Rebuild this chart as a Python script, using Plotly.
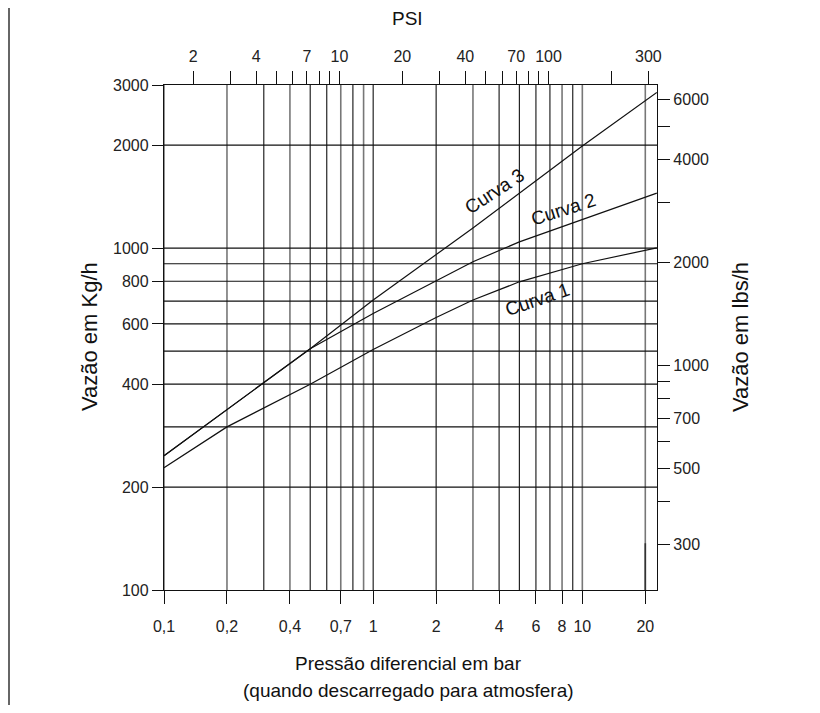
import math
import plotly.graph_objects as go

# ---------------- data ----------------
bar_ticks = [0.1, 0.2, 0.4, 0.7, 1, 2, 4, 6, 8, 10, 20]
bar_tick_labels = ["0,1", "0,2", "0,4", "0,7", "1", "2", "4", "6", "8", "10", "20"]
bar_grid = [0.1, 0.2, 0.3, 0.4, 0.5, 0.6, 0.7, 0.8, 0.9, 1, 2, 3, 4, 5, 6, 7, 8, 9, 10, 20]
bar_grid_grey = [0.1, 0.2, 0.4, 0.7, 0.9, 3, 8, 10, 20]

kg_ticks = [100, 200, 400, 600, 800, 1000, 2000, 3000]
kg_tick_labels = ["100", "200", "400", "600", "800", "1000", "2000", "3000"]
kg_grid = [200, 300, 400, 500, 600, 700, 800, 900, 1000, 2000]

psi_ticks = [2, 3, 4, 5, 6, 7, 8, 9, 10, 20, 30, 40, 50, 60, 70, 80, 90, 100, 200, 300]
psi_tick_labels = ["2", "", "4", "", "", "7", "", "", "10", "20", "", "40", "", "", "70", "", "", "100", "", "300"]

lbs_ticks = [300, 400, 500, 600, 700, 800, 900, 1000, 2000, 3000, 4000, 5000, 6000]
lbs_tick_labels = ["300", "", "500", "", "700", "", "", "1000", "2000", "", "4000", "", "6000"]

curve1_bar = [0.1, 0.2, 0.5, 1, 2, 3, 5, 10, 22.7]
curve1_kg = [228, 300, 400, 505, 627, 705, 797, 900, 1002]

curve2_bar = [0.1, 0.5, 1, 2, 3, 5, 10, 22.7]
curve2_kg = [247, 508, 644, 800, 912, 1043, 1212, 1448]

curve3_bar = [0.1, 0.5, 1, 3, 10, 22.7]
curve3_kg = [247, 508, 705, 1145, 1990, 2853]

curve_names = ["Curva 1", "Curva 2", "Curva 3"]

BAR_TO_PSI = 14.5038
KG_TO_LBS = 2.20462
X_MIN, X_MAX = 0.1, 22.75
Y_MIN, Y_MAX = 100, 3000

# ---------------- layout geometry (page has an 8px body margin) ----------------
OFF = 8
FIG_W, FIG_H = 812, 697
L, T = 164 - OFF, 85 - OFF
PW, PH = 493, 505
R = FIG_W - L - PW
B = FIG_H - T - PH

def px_to_paper_x(px):
    return (px - OFF - L) / PW

def px_to_paper_y(py):
    return (T + PH - (py - OFF)) / PH

tick_font = dict(family="Liberation Sans Narrow, Liberation Sans, Arial", size=16, color="#222")
title_font = dict(family="Liberation Sans, Arial", size=19, color="#111")
vtitle_font = dict(family="Liberation Sans, Arial", size=22, color="#111")

fig = go.Figure()
for xs, ys, name in [(curve1_bar, curve1_kg, curve_names[0]),
                     (curve2_bar, curve2_kg, curve_names[1]),
                     (curve3_bar, curve3_kg, curve_names[2])]:
    fig.add_trace(go.Scatter(x=xs, y=ys, mode="lines", name=name,
                             line=dict(color="#111", width=1.2),
                             hoverinfo="x+y+name", showlegend=False))

# dummy trace to realise secondary axes
fig.add_trace(go.Scatter(x=[psi_ticks[0]], y=[lbs_ticks[0]], xaxis="x2", yaxis="y2",
                         mode="markers", marker=dict(opacity=0), hoverinfo="skip",
                         showlegend=False))

shapes = []
for v in bar_grid:
    grey = v in bar_grid_grey
    shapes.append(dict(type="line", xref="x", yref="paper", x0=v, x1=v, y0=0, y1=1,
                       line=dict(color="#777" if grey else "#111", width=1.6 if grey else 1.1),
                       layer="below"))
for v in kg_grid:
    shapes.append(dict(type="line", xref="paper", yref="y", x0=0, x1=1, y0=v, y1=v,
                       line=dict(color="#111", width=1.2), layer="below"))
# short darker segment near bottom of the 20 bar line
shapes.append(dict(type="line", xref="x", yref="y", x0=bar_ticks[-1], x1=bar_ticks[-1],
                   y0=Y_MIN, y1=137, line=dict(color="#333", width=1.6)))
# page border (left / right)
for bx in (9, 818):
    shapes.append(dict(type="line", xref="paper", yref="paper", x0=px_to_paper_x(bx), x1=px_to_paper_x(bx),
                       y0=px_to_paper_y(OFF), y1=px_to_paper_y(OFF + FIG_H),
                       line=dict(color="#666", width=2)))

axis_common = dict(type="log", showgrid=False, zeroline=False, showline=True,
                   linecolor="#111", linewidth=1.3, ticks="outside", tickcolor="#111",
                   tickwidth=1.2, tickfont=tick_font)

fig.update_layout(
    width=FIG_W, height=FIG_H, autosize=False,
    margin=dict(l=L, r=R, t=T, b=B),
    paper_bgcolor="white", plot_bgcolor="white",
    xaxis=dict(axis_common, range=[math.log10(X_MIN), math.log10(X_MAX)],
               tickvals=bar_ticks, ticktext=bar_tick_labels, ticklen=13, ticklabelstandoff=9),
    yaxis=dict(axis_common, range=[math.log10(Y_MIN), math.log10(Y_MAX)],
               tickvals=kg_ticks, ticktext=kg_tick_labels, ticklen=11),
    xaxis2=dict(axis_common, overlaying="x", side="top", anchor="y2",
                range=[math.log10(X_MIN * BAR_TO_PSI), math.log10(X_MAX * BAR_TO_PSI)],
                tickvals=psi_ticks, ticktext=psi_tick_labels, ticklen=13, ticklabelstandoff=2),
    yaxis2=dict(axis_common, overlaying="y", side="right", anchor="x2",
                range=[math.log10(Y_MIN * KG_TO_LBS), math.log10(Y_MAX * KG_TO_LBS)],
                tickvals=lbs_ticks, ticktext=lbs_tick_labels, ticklen=12),
    shapes=shapes,
    annotations=[
        dict(text="PSI", xref="paper", yref="paper", x=px_to_paper_x(407), y=px_to_paper_y(18),
             showarrow=False, font=title_font, xanchor="center", yanchor="middle"),
        dict(text="Vazão em Kg/h", xref="paper", yref="paper", x=px_to_paper_x(89), y=px_to_paper_y(337),
             textangle=-90, showarrow=False, font=vtitle_font, xanchor="center", yanchor="middle"),
        dict(text="Vazão em lbs/h", xref="paper", yref="paper", x=px_to_paper_x(740), y=px_to_paper_y(337),
             textangle=-90, showarrow=False, font=vtitle_font, xanchor="center", yanchor="middle"),
        dict(text="Pressão diferencial em bar", xref="paper", yref="paper", x=px_to_paper_x(408),
             y=px_to_paper_y(663), showarrow=False, font=title_font, xanchor="center", yanchor="middle"),
        dict(text="(quando descarregado para atmosfera)", xref="paper", yref="paper", x=px_to_paper_x(408),
             y=px_to_paper_y(690), showarrow=False, font=title_font, xanchor="center", yanchor="middle"),
        dict(text=curve_names[2], xref="paper", yref="paper", x=px_to_paper_x(494), y=px_to_paper_y(191),
             textangle=-33, showarrow=False, font=title_font, xanchor="center", yanchor="middle"),
        dict(text=curve_names[1], xref="paper", yref="paper", x=px_to_paper_x(563), y=px_to_paper_y(209),
             textangle=-18, showarrow=False, font=title_font, xanchor="center", yanchor="middle"),
        dict(text=curve_names[0], xref="paper", yref="paper", x=px_to_paper_x(537), y=px_to_paper_y(299),
             textangle=-19, showarrow=False, font=title_font, xanchor="center", yanchor="middle"),
    ],
)

fig.write_html("out.html")
